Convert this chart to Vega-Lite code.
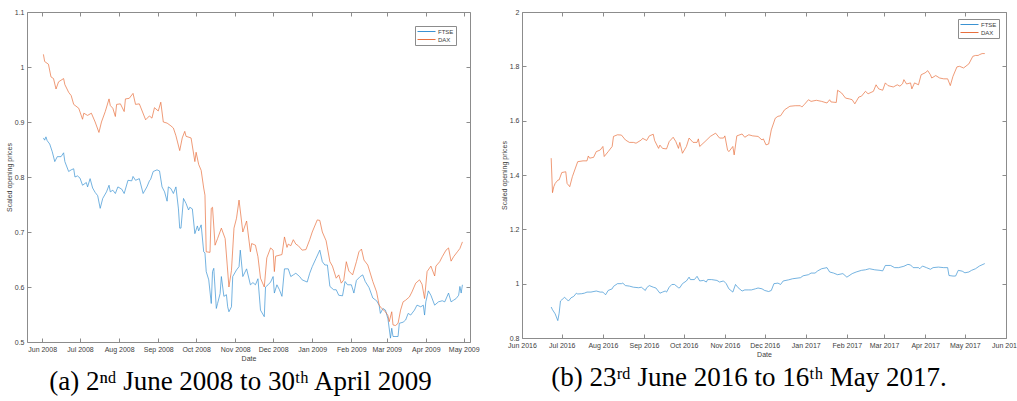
{
  "$schema": "https://vega.github.io/schema/vega-lite/v6.json",
  "padding": {"left": 4, "top": 7, "right": 0, "bottom": 0},
  "background": "white",
  "bounds": "flush",
  "spacing": 52,
  "resolve": {"scale": {"color": "independent"}, "legend": {"color": "independent"}},
  "config": {
    "view": {"stroke": "#8c8c8c", "strokeWidth": 1},
    "axis": {"grid": false, "domain": false, "tickColor": "#8c8c8c", "tickSize": -4, "labelPadding": 7, "labelFont": "Liberation Sans", "labelFontSize": 7, "labelColor": "#404040", "titleFont": "Liberation Sans", "titleFontSize": 7, "titleFontWeight": "normal", "titleColor": "#404040", "labelOverlap": false, "labelFlush": false, "titlePadding": 2},
    "legend": {"title": null, "orient": "top-right", "strokeColor": "#8c8c8c", "fillColor": "white", "padding": 2, "rowPadding": 1, "labelFont": "Liberation Sans", "labelFontSize": 6, "labelColor": "#404040", "symbolType": "M-3,0H3", "symbolSize": 36, "symbolStrokeWidth": 1, "symbolOffset": 6, "labelOffset": 8}
  },
  "datasets": {
    "a": [
      {"s":"FTSE","d":"2008-06-02","v":0.871},{"s":"FTSE","d":"2008-06-03","v":0.867},{"s":"FTSE","d":"2008-06-04","v":0.873},{"s":"FTSE","d":"2008-06-05","v":0.866},{"s":"FTSE","d":"2008-06-07","v":0.86},{"s":"FTSE","d":"2008-06-09","v":0.846},{"s":"FTSE","d":"2008-06-11","v":0.828},{"s":"FTSE","d":"2008-06-13","v":0.837},{"s":"FTSE","d":"2008-06-16","v":0.837},{"s":"FTSE","d":"2008-06-18","v":0.844},{"s":"FTSE","d":"2008-06-19","v":0.828},{"s":"FTSE","d":"2008-06-22","v":0.81},{"s":"FTSE","d":"2008-06-24","v":0.813},{"s":"FTSE","d":"2008-06-26","v":0.815},{"s":"FTSE","d":"2008-06-27","v":0.80},{"s":"FTSE","d":"2008-06-29","v":0.802},
      {"s":"FTSE","d":"2008-07-01","v":0.798},{"s":"FTSE","d":"2008-07-03","v":0.785},{"s":"FTSE","d":"2008-07-06","v":0.79},{"s":"FTSE","d":"2008-07-07","v":0.782},{"s":"FTSE","d":"2008-07-09","v":0.797},{"s":"FTSE","d":"2008-07-11","v":0.78},{"s":"FTSE","d":"2008-07-13","v":0.772},{"s":"FTSE","d":"2008-07-15","v":0.766},{"s":"FTSE","d":"2008-07-17","v":0.743},{"s":"FTSE","d":"2008-07-19","v":0.761},{"s":"FTSE","d":"2008-07-22","v":0.773},{"s":"FTSE","d":"2008-07-24","v":0.785},{"s":"FTSE","d":"2008-07-25","v":0.773},{"s":"FTSE","d":"2008-07-27","v":0.776},{"s":"FTSE","d":"2008-07-29","v":0.77},{"s":"FTSE","d":"2008-07-31","v":0.782},
      {"s":"FTSE","d":"2008-08-03","v":0.778},{"s":"FTSE","d":"2008-08-05","v":0.77},{"s":"FTSE","d":"2008-08-08","v":0.794},{"s":"FTSE","d":"2008-08-11","v":0.793},{"s":"FTSE","d":"2008-08-12","v":0.801},{"s":"FTSE","d":"2008-08-14","v":0.794},{"s":"FTSE","d":"2008-08-17","v":0.797},{"s":"FTSE","d":"2008-08-20","v":0.77},{"s":"FTSE","d":"2008-08-23","v":0.782},{"s":"FTSE","d":"2008-08-25","v":0.793},{"s":"FTSE","d":"2008-08-26","v":0.796},{"s":"FTSE","d":"2008-08-28","v":0.81},{"s":"FTSE","d":"2008-08-31","v":0.813},
      {"s":"FTSE","d":"2008-09-02","v":0.811},{"s":"FTSE","d":"2008-09-04","v":0.782},{"s":"FTSE","d":"2008-09-06","v":0.773},{"s":"FTSE","d":"2008-09-08","v":0.756},{"s":"FTSE","d":"2008-09-09","v":0.782},{"s":"FTSE","d":"2008-09-11","v":0.779},{"s":"FTSE","d":"2008-09-13","v":0.77},{"s":"FTSE","d":"2008-09-15","v":0.782},{"s":"FTSE","d":"2008-09-17","v":0.742},{"s":"FTSE","d":"2008-09-18","v":0.707},{"s":"FTSE","d":"2008-09-19","v":0.707},{"s":"FTSE","d":"2008-09-21","v":0.761},{"s":"FTSE","d":"2008-09-23","v":0.752},{"s":"FTSE","d":"2008-09-25","v":0.74},{"s":"FTSE","d":"2008-09-26","v":0.745},{"s":"FTSE","d":"2008-09-28","v":0.742},{"s":"FTSE","d":"2008-09-30","v":0.697},
      {"s":"FTSE","d":"2008-10-02","v":0.711},{"s":"FTSE","d":"2008-10-03","v":0.702},{"s":"FTSE","d":"2008-10-05","v":0.713},{"s":"FTSE","d":"2008-10-07","v":0.664},{"s":"FTSE","d":"2008-10-08","v":0.662},{"s":"FTSE","d":"2008-10-09","v":0.628},{"s":"FTSE","d":"2008-10-11","v":0.613},{"s":"FTSE","d":"2008-10-13","v":0.57},{"s":"FTSE","d":"2008-10-14","v":0.628},{"s":"FTSE","d":"2008-10-15","v":0.634},{"s":"FTSE","d":"2008-10-17","v":0.561},{"s":"FTSE","d":"2008-10-18","v":0.57},{"s":"FTSE","d":"2008-10-20","v":0.588},{"s":"FTSE","d":"2008-10-21","v":0.619},{"s":"FTSE","d":"2008-10-23","v":0.583},{"s":"FTSE","d":"2008-10-25","v":0.586},{"s":"FTSE","d":"2008-10-26","v":0.564},{"s":"FTSE","d":"2008-10-27","v":0.555},{"s":"FTSE","d":"2008-10-29","v":0.564},{"s":"FTSE","d":"2008-10-30","v":0.619},
      {"s":"FTSE","d":"2008-11-02","v":0.631},{"s":"FTSE","d":"2008-11-04","v":0.637},{"s":"FTSE","d":"2008-11-05","v":0.667},{"s":"FTSE","d":"2008-11-07","v":0.619},{"s":"FTSE","d":"2008-11-10","v":0.633},{"s":"FTSE","d":"2008-11-13","v":0.604},{"s":"FTSE","d":"2008-11-15","v":0.608},{"s":"FTSE","d":"2008-11-17","v":0.604},{"s":"FTSE","d":"2008-11-19","v":0.615},{"s":"FTSE","d":"2008-11-21","v":0.558},{"s":"FTSE","d":"2008-11-24","v":0.546},{"s":"FTSE","d":"2008-11-25","v":0.60},{"s":"FTSE","d":"2008-11-27","v":0.604},{"s":"FTSE","d":"2008-11-29","v":0.609},
      {"s":"FTSE","d":"2008-12-01","v":0.619},{"s":"FTSE","d":"2008-12-02","v":0.589},{"s":"FTSE","d":"2008-12-04","v":0.604},{"s":"FTSE","d":"2008-12-06","v":0.595},{"s":"FTSE","d":"2008-12-08","v":0.583},{"s":"FTSE","d":"2008-12-10","v":0.633},{"s":"FTSE","d":"2008-12-13","v":0.633},{"s":"FTSE","d":"2008-12-15","v":0.619},{"s":"FTSE","d":"2008-12-17","v":0.622},{"s":"FTSE","d":"2008-12-19","v":0.625},{"s":"FTSE","d":"2008-12-22","v":0.619},{"s":"FTSE","d":"2008-12-24","v":0.613},{"s":"FTSE","d":"2008-12-28","v":0.609},{"s":"FTSE","d":"2008-12-30","v":0.625},
      {"s":"FTSE","d":"2009-01-01","v":0.637},{"s":"FTSE","d":"2009-01-04","v":0.652},{"s":"FTSE","d":"2009-01-07","v":0.667},{"s":"FTSE","d":"2009-01-09","v":0.646},{"s":"FTSE","d":"2009-01-11","v":0.64},{"s":"FTSE","d":"2009-01-13","v":0.64},{"s":"FTSE","d":"2009-01-15","v":0.601},{"s":"FTSE","d":"2009-01-18","v":0.595},{"s":"FTSE","d":"2009-01-20","v":0.595},{"s":"FTSE","d":"2009-01-22","v":0.585},{"s":"FTSE","d":"2009-01-25","v":0.584},{"s":"FTSE","d":"2009-01-27","v":0.61},{"s":"FTSE","d":"2009-01-29","v":0.604},
      {"s":"FTSE","d":"2009-02-01","v":0.604},{"s":"FTSE","d":"2009-02-03","v":0.589},{"s":"FTSE","d":"2009-02-05","v":0.612},{"s":"FTSE","d":"2009-02-08","v":0.619},{"s":"FTSE","d":"2009-02-10","v":0.622},{"s":"FTSE","d":"2009-02-12","v":0.61},{"s":"FTSE","d":"2009-02-15","v":0.599},{"s":"FTSE","d":"2009-02-18","v":0.58},{"s":"FTSE","d":"2009-02-21","v":0.575},{"s":"FTSE","d":"2009-02-23","v":0.567},{"s":"FTSE","d":"2009-02-24","v":0.552},{"s":"FTSE","d":"2009-02-26","v":0.561},{"s":"FTSE","d":"2009-02-28","v":0.558},
      {"s":"FTSE","d":"2009-03-02","v":0.542},{"s":"FTSE","d":"2009-03-04","v":0.507},{"s":"FTSE","d":"2009-03-05","v":0.525},{"s":"FTSE","d":"2009-03-06","v":0.51},{"s":"FTSE","d":"2009-03-10","v":0.51},{"s":"FTSE","d":"2009-03-11","v":0.534},{"s":"FTSE","d":"2009-03-14","v":0.536},{"s":"FTSE","d":"2009-03-16","v":0.54},{"s":"FTSE","d":"2009-03-18","v":0.552},{"s":"FTSE","d":"2009-03-20","v":0.549},{"s":"FTSE","d":"2009-03-23","v":0.558},{"s":"FTSE","d":"2009-03-25","v":0.567},{"s":"FTSE","d":"2009-03-28","v":0.564},{"s":"FTSE","d":"2009-03-30","v":0.567},{"s":"FTSE","d":"2009-03-31","v":0.549},
      {"s":"FTSE","d":"2009-04-01","v":0.573},{"s":"FTSE","d":"2009-04-03","v":0.593},{"s":"FTSE","d":"2009-04-05","v":0.585},{"s":"FTSE","d":"2009-04-08","v":0.567},{"s":"FTSE","d":"2009-04-11","v":0.573},{"s":"FTSE","d":"2009-04-14","v":0.575},{"s":"FTSE","d":"2009-04-16","v":0.573},{"s":"FTSE","d":"2009-04-19","v":0.589},{"s":"FTSE","d":"2009-04-21","v":0.573},{"s":"FTSE","d":"2009-04-23","v":0.576},{"s":"FTSE","d":"2009-04-25","v":0.579},{"s":"FTSE","d":"2009-04-27","v":0.585},{"s":"FTSE","d":"2009-04-28","v":0.601},{"s":"FTSE","d":"2009-04-29","v":0.589},{"s":"FTSE","d":"2009-04-30","v":0.604},
      {"s":"DAX","d":"2008-06-02","v":1.023},{"s":"DAX","d":"2008-06-03","v":1.01},{"s":"DAX","d":"2008-06-06","v":1.005},{"s":"DAX","d":"2008-06-08","v":0.982},{"s":"DAX","d":"2008-06-10","v":0.979},{"s":"DAX","d":"2008-06-12","v":0.96},{"s":"DAX","d":"2008-06-14","v":0.973},{"s":"DAX","d":"2008-06-18","v":0.979},{"s":"DAX","d":"2008-06-19","v":0.968},{"s":"DAX","d":"2008-06-22","v":0.954},{"s":"DAX","d":"2008-06-24","v":0.948},{"s":"DAX","d":"2008-06-26","v":0.932},{"s":"DAX","d":"2008-06-30","v":0.925},
      {"s":"DAX","d":"2008-07-03","v":0.905},{"s":"DAX","d":"2008-07-04","v":0.916},{"s":"DAX","d":"2008-07-07","v":0.912},{"s":"DAX","d":"2008-07-10","v":0.916},{"s":"DAX","d":"2008-07-13","v":0.90},{"s":"DAX","d":"2008-07-16","v":0.881},{"s":"DAX","d":"2008-07-18","v":0.90},{"s":"DAX","d":"2008-07-21","v":0.919},{"s":"DAX","d":"2008-07-24","v":0.942},{"s":"DAX","d":"2008-07-25","v":0.93},{"s":"DAX","d":"2008-07-27","v":0.925},{"s":"DAX","d":"2008-07-29","v":0.91},{"s":"DAX","d":"2008-07-30","v":0.932},
      {"s":"DAX","d":"2008-08-02","v":0.933},{"s":"DAX","d":"2008-08-05","v":0.919},{"s":"DAX","d":"2008-08-06","v":0.942},{"s":"DAX","d":"2008-08-09","v":0.943},{"s":"DAX","d":"2008-08-12","v":0.952},{"s":"DAX","d":"2008-08-14","v":0.932},{"s":"DAX","d":"2008-08-17","v":0.933},{"s":"DAX","d":"2008-08-22","v":0.904},{"s":"DAX","d":"2008-08-25","v":0.911},{"s":"DAX","d":"2008-08-27","v":0.907},{"s":"DAX","d":"2008-08-29","v":0.926},
      {"s":"DAX","d":"2008-09-01","v":0.92},{"s":"DAX","d":"2008-09-03","v":0.936},{"s":"DAX","d":"2008-09-05","v":0.90},{"s":"DAX","d":"2008-09-08","v":0.898},{"s":"DAX","d":"2008-09-11","v":0.893},{"s":"DAX","d":"2008-09-13","v":0.889},{"s":"DAX","d":"2008-09-15","v":0.875},{"s":"DAX","d":"2008-09-18","v":0.848},{"s":"DAX","d":"2008-09-20","v":0.871},{"s":"DAX","d":"2008-09-22","v":0.883},{"s":"DAX","d":"2008-09-23","v":0.874},{"s":"DAX","d":"2008-09-27","v":0.871},{"s":"DAX","d":"2008-09-30","v":0.828},
      {"s":"DAX","d":"2008-10-01","v":0.845},{"s":"DAX","d":"2008-10-03","v":0.823},{"s":"DAX","d":"2008-10-05","v":0.812},{"s":"DAX","d":"2008-10-07","v":0.78},{"s":"DAX","d":"2008-10-08","v":0.767},{"s":"DAX","d":"2008-10-09","v":0.664},{"s":"DAX","d":"2008-10-12","v":0.663},{"s":"DAX","d":"2008-10-13","v":0.743},{"s":"DAX","d":"2008-10-14","v":0.745},{"s":"DAX","d":"2008-10-16","v":0.676},{"s":"DAX","d":"2008-10-18","v":0.688},{"s":"DAX","d":"2008-10-21","v":0.707},{"s":"DAX","d":"2008-10-24","v":0.688},{"s":"DAX","d":"2008-10-27","v":0.60},{"s":"DAX","d":"2008-10-29","v":0.63},{"s":"DAX","d":"2008-10-31","v":0.707},
      {"s":"DAX","d":"2008-11-02","v":0.725},{"s":"DAX","d":"2008-11-04","v":0.758},{"s":"DAX","d":"2008-11-07","v":0.70},{"s":"DAX","d":"2008-11-10","v":0.72},{"s":"DAX","d":"2008-11-13","v":0.664},{"s":"DAX","d":"2008-11-14","v":0.679},{"s":"DAX","d":"2008-11-17","v":0.676},{"s":"DAX","d":"2008-11-19","v":0.655},{"s":"DAX","d":"2008-11-21","v":0.616},{"s":"DAX","d":"2008-11-24","v":0.60},{"s":"DAX","d":"2008-11-26","v":0.653},{"s":"DAX","d":"2008-11-29","v":0.671},
      {"s":"DAX","d":"2008-12-01","v":0.667},{"s":"DAX","d":"2008-12-02","v":0.628},{"s":"DAX","d":"2008-12-03","v":0.656},{"s":"DAX","d":"2008-12-08","v":0.659},{"s":"DAX","d":"2008-12-10","v":0.691},{"s":"DAX","d":"2008-12-12","v":0.672},{"s":"DAX","d":"2008-12-13","v":0.678},{"s":"DAX","d":"2008-12-15","v":0.675},{"s":"DAX","d":"2008-12-17","v":0.686},{"s":"DAX","d":"2008-12-19","v":0.678},{"s":"DAX","d":"2008-12-21","v":0.675},{"s":"DAX","d":"2008-12-24","v":0.667},{"s":"DAX","d":"2008-12-27","v":0.668},{"s":"DAX","d":"2008-12-30","v":0.686},
      {"s":"DAX","d":"2009-01-01","v":0.70},{"s":"DAX","d":"2009-01-05","v":0.722},{"s":"DAX","d":"2009-01-07","v":0.721},{"s":"DAX","d":"2009-01-09","v":0.70},{"s":"DAX","d":"2009-01-12","v":0.684},{"s":"DAX","d":"2009-01-15","v":0.646},{"s":"DAX","d":"2009-01-17","v":0.638},{"s":"DAX","d":"2009-01-20","v":0.616},{"s":"DAX","d":"2009-01-22","v":0.622},{"s":"DAX","d":"2009-01-24","v":0.607},{"s":"DAX","d":"2009-01-26","v":0.613},{"s":"DAX","d":"2009-01-28","v":0.646},{"s":"DAX","d":"2009-01-30","v":0.629},
      {"s":"DAX","d":"2009-02-02","v":0.622},{"s":"DAX","d":"2009-02-05","v":0.646},{"s":"DAX","d":"2009-02-07","v":0.664},{"s":"DAX","d":"2009-02-09","v":0.669},{"s":"DAX","d":"2009-02-11","v":0.649},{"s":"DAX","d":"2009-02-14","v":0.64},{"s":"DAX","d":"2009-02-18","v":0.61},{"s":"DAX","d":"2009-02-21","v":0.591},{"s":"DAX","d":"2009-02-23","v":0.567},{"s":"DAX","d":"2009-02-25","v":0.561},{"s":"DAX","d":"2009-02-28","v":0.555},
      {"s":"DAX","d":"2009-03-02","v":0.548},{"s":"DAX","d":"2009-03-03","v":0.537},{"s":"DAX","d":"2009-03-05","v":0.555},{"s":"DAX","d":"2009-03-06","v":0.531},{"s":"DAX","d":"2009-03-08","v":0.53},{"s":"DAX","d":"2009-03-10","v":0.534},{"s":"DAX","d":"2009-03-12","v":0.558},{"s":"DAX","d":"2009-03-14","v":0.573},{"s":"DAX","d":"2009-03-16","v":0.576},{"s":"DAX","d":"2009-03-19","v":0.582},{"s":"DAX","d":"2009-03-21","v":0.591},{"s":"DAX","d":"2009-03-24","v":0.607},{"s":"DAX","d":"2009-03-27","v":0.613},{"s":"DAX","d":"2009-03-29","v":0.605},{"s":"DAX","d":"2009-03-31","v":0.579},
      {"s":"DAX","d":"2009-04-02","v":0.628},{"s":"DAX","d":"2009-04-05","v":0.638},{"s":"DAX","d":"2009-04-08","v":0.62},{"s":"DAX","d":"2009-04-09","v":0.638},{"s":"DAX","d":"2009-04-12","v":0.646},{"s":"DAX","d":"2009-04-14","v":0.655},{"s":"DAX","d":"2009-04-17","v":0.667},{"s":"DAX","d":"2009-04-19","v":0.671},{"s":"DAX","d":"2009-04-21","v":0.647},{"s":"DAX","d":"2009-04-23","v":0.655},{"s":"DAX","d":"2009-04-26","v":0.664},{"s":"DAX","d":"2009-04-28","v":0.67},{"s":"DAX","d":"2009-04-29","v":0.676},{"s":"DAX","d":"2009-04-30","v":0.682}
    ],
    "b": [
      {"s":"FTSE","d":"2016-06-23","v":0.914},{"s":"FTSE","d":"2016-06-24","v":0.904},{"s":"FTSE","d":"2016-06-26","v":0.889},{"s":"FTSE","d":"2016-06-28","v":0.864},{"s":"FTSE","d":"2016-06-29","v":0.891},{"s":"FTSE","d":"2016-06-30","v":0.936},
      {"s":"FTSE","d":"2016-07-01","v":0.94},{"s":"FTSE","d":"2016-07-03","v":0.95},{"s":"FTSE","d":"2016-07-04","v":0.946},{"s":"FTSE","d":"2016-07-06","v":0.936},{"s":"FTSE","d":"2016-07-08","v":0.948},{"s":"FTSE","d":"2016-07-10","v":0.953},{"s":"FTSE","d":"2016-07-12","v":0.965},{"s":"FTSE","d":"2016-07-13","v":0.962},{"s":"FTSE","d":"2016-07-16","v":0.963},{"s":"FTSE","d":"2016-07-18","v":0.965},{"s":"FTSE","d":"2016-07-20","v":0.969},{"s":"FTSE","d":"2016-07-23","v":0.969},{"s":"FTSE","d":"2016-07-27","v":0.973},{"s":"FTSE","d":"2016-07-30","v":0.969},
      {"s":"FTSE","d":"2016-08-01","v":0.969},{"s":"FTSE","d":"2016-08-03","v":0.959},{"s":"FTSE","d":"2016-08-05","v":0.975},{"s":"FTSE","d":"2016-08-08","v":0.981},{"s":"FTSE","d":"2016-08-09","v":0.99},{"s":"FTSE","d":"2016-08-12","v":1.0},{"s":"FTSE","d":"2016-08-15","v":1.0},{"s":"FTSE","d":"2016-08-16","v":1.002},{"s":"FTSE","d":"2016-08-18","v":0.993},{"s":"FTSE","d":"2016-08-21","v":0.991},{"s":"FTSE","d":"2016-08-24","v":0.987},{"s":"FTSE","d":"2016-08-28","v":0.985},{"s":"FTSE","d":"2016-08-30","v":0.987},
      {"s":"FTSE","d":"2016-09-02","v":0.975},{"s":"FTSE","d":"2016-09-03","v":0.985},{"s":"FTSE","d":"2016-09-05","v":0.993},{"s":"FTSE","d":"2016-09-08","v":0.987},{"s":"FTSE","d":"2016-09-10","v":0.984},{"s":"FTSE","d":"2016-09-13","v":0.965},{"s":"FTSE","d":"2016-09-15","v":0.969},{"s":"FTSE","d":"2016-09-17","v":0.973},{"s":"FTSE","d":"2016-09-18","v":0.969},{"s":"FTSE","d":"2016-09-20","v":0.987},{"s":"FTSE","d":"2016-09-22","v":0.997},{"s":"FTSE","d":"2016-09-24","v":0.997},{"s":"FTSE","d":"2016-09-27","v":0.985},{"s":"FTSE","d":"2016-09-28","v":0.985},{"s":"FTSE","d":"2016-09-30","v":1.0},
      {"s":"FTSE","d":"2016-10-03","v":1.01},{"s":"FTSE","d":"2016-10-05","v":1.024},{"s":"FTSE","d":"2016-10-06","v":1.015},{"s":"FTSE","d":"2016-10-09","v":1.015},{"s":"FTSE","d":"2016-10-11","v":1.027},{"s":"FTSE","d":"2016-10-13","v":1.01},{"s":"FTSE","d":"2016-10-16","v":1.012},{"s":"FTSE","d":"2016-10-18","v":1.006},{"s":"FTSE","d":"2016-10-19","v":1.015},{"s":"FTSE","d":"2016-10-22","v":1.015},{"s":"FTSE","d":"2016-10-26","v":1.012},{"s":"FTSE","d":"2016-10-28","v":1.006},{"s":"FTSE","d":"2016-10-31","v":1.01},
      {"s":"FTSE","d":"2016-11-02","v":1.0},{"s":"FTSE","d":"2016-11-04","v":0.981},{"s":"FTSE","d":"2016-11-07","v":0.969},{"s":"FTSE","d":"2016-11-09","v":0.997},{"s":"FTSE","d":"2016-11-11","v":0.985},{"s":"FTSE","d":"2016-11-14","v":0.973},{"s":"FTSE","d":"2016-11-16","v":0.977},{"s":"FTSE","d":"2016-11-19","v":0.977},{"s":"FTSE","d":"2016-11-21","v":0.977},{"s":"FTSE","d":"2016-11-24","v":0.981},{"s":"FTSE","d":"2016-11-26","v":0.984},{"s":"FTSE","d":"2016-11-29","v":0.981},
      {"s":"FTSE","d":"2016-12-01","v":0.975},{"s":"FTSE","d":"2016-12-04","v":0.971},{"s":"FTSE","d":"2016-12-06","v":0.975},{"s":"FTSE","d":"2016-12-08","v":1.0},{"s":"FTSE","d":"2016-12-11","v":1.002},{"s":"FTSE","d":"2016-12-13","v":0.997},{"s":"FTSE","d":"2016-12-15","v":1.01},{"s":"FTSE","d":"2016-12-19","v":1.014},{"s":"FTSE","d":"2016-12-22","v":1.018},{"s":"FTSE","d":"2016-12-28","v":1.022},{"s":"FTSE","d":"2016-12-30","v":1.029},
      {"s":"FTSE","d":"2017-01-03","v":1.033},{"s":"FTSE","d":"2017-01-05","v":1.039},{"s":"FTSE","d":"2017-01-08","v":1.039},{"s":"FTSE","d":"2017-01-10","v":1.047},{"s":"FTSE","d":"2017-01-13","v":1.055},{"s":"FTSE","d":"2017-01-17","v":1.059},{"s":"FTSE","d":"2017-01-19","v":1.043},{"s":"FTSE","d":"2017-01-22","v":1.039},{"s":"FTSE","d":"2017-01-25","v":1.033},{"s":"FTSE","d":"2017-01-29","v":1.037},
      {"s":"FTSE","d":"2017-02-01","v":1.024},{"s":"FTSE","d":"2017-02-05","v":1.037},{"s":"FTSE","d":"2017-02-08","v":1.043},{"s":"FTSE","d":"2017-02-12","v":1.049},{"s":"FTSE","d":"2017-02-15","v":1.051},{"s":"FTSE","d":"2017-02-18","v":1.055},{"s":"FTSE","d":"2017-02-22","v":1.051},{"s":"FTSE","d":"2017-02-26","v":1.049},{"s":"FTSE","d":"2017-02-28","v":1.047},
      {"s":"FTSE","d":"2017-03-02","v":1.067},{"s":"FTSE","d":"2017-03-06","v":1.067},{"s":"FTSE","d":"2017-03-09","v":1.059},{"s":"FTSE","d":"2017-03-12","v":1.059},{"s":"FTSE","d":"2017-03-16","v":1.064},{"s":"FTSE","d":"2017-03-19","v":1.071},{"s":"FTSE","d":"2017-03-21","v":1.069},{"s":"FTSE","d":"2017-03-23","v":1.059},{"s":"FTSE","d":"2017-03-27","v":1.059},{"s":"FTSE","d":"2017-03-28","v":1.055},{"s":"FTSE","d":"2017-03-30","v":1.065},
      {"s":"FTSE","d":"2017-04-02","v":1.059},{"s":"FTSE","d":"2017-04-05","v":1.053},{"s":"FTSE","d":"2017-04-07","v":1.059},{"s":"FTSE","d":"2017-04-11","v":1.061},{"s":"FTSE","d":"2017-04-15","v":1.059},{"s":"FTSE","d":"2017-04-18","v":1.059},{"s":"FTSE","d":"2017-04-19","v":1.03},{"s":"FTSE","d":"2017-04-22","v":1.028},{"s":"FTSE","d":"2017-04-24","v":1.028},{"s":"FTSE","d":"2017-04-26","v":1.049},{"s":"FTSE","d":"2017-04-29","v":1.046},
      {"s":"FTSE","d":"2017-05-01","v":1.04},{"s":"FTSE","d":"2017-05-04","v":1.043},{"s":"FTSE","d":"2017-05-06","v":1.049},{"s":"FTSE","d":"2017-05-09","v":1.055},{"s":"FTSE","d":"2017-05-12","v":1.065},{"s":"FTSE","d":"2017-05-16","v":1.074},
      {"s":"DAX","d":"2016-06-23","v":1.462},{"s":"DAX","d":"2016-06-24","v":1.335},{"s":"DAX","d":"2016-06-25","v":1.357},{"s":"DAX","d":"2016-06-26","v":1.369},{"s":"DAX","d":"2016-06-28","v":1.381},{"s":"DAX","d":"2016-06-29","v":1.382},
      {"s":"DAX","d":"2016-07-01","v":1.409},{"s":"DAX","d":"2016-07-04","v":1.412},{"s":"DAX","d":"2016-07-05","v":1.369},{"s":"DAX","d":"2016-07-07","v":1.357},{"s":"DAX","d":"2016-07-09","v":1.394},{"s":"DAX","d":"2016-07-13","v":1.449},{"s":"DAX","d":"2016-07-17","v":1.452},{"s":"DAX","d":"2016-07-20","v":1.452},{"s":"DAX","d":"2016-07-21","v":1.47},{"s":"DAX","d":"2016-07-22","v":1.462},{"s":"DAX","d":"2016-07-25","v":1.465},{"s":"DAX","d":"2016-07-27","v":1.486},{"s":"DAX","d":"2016-07-30","v":1.492},
      {"s":"DAX","d":"2016-08-01","v":1.505},{"s":"DAX","d":"2016-08-02","v":1.468},{"s":"DAX","d":"2016-08-05","v":1.486},{"s":"DAX","d":"2016-08-08","v":1.505},{"s":"DAX","d":"2016-08-09","v":1.542},{"s":"DAX","d":"2016-08-12","v":1.548},{"s":"DAX","d":"2016-08-15","v":1.547},{"s":"DAX","d":"2016-08-18","v":1.529},{"s":"DAX","d":"2016-08-21","v":1.52},{"s":"DAX","d":"2016-08-24","v":1.52},{"s":"DAX","d":"2016-08-26","v":1.517},{"s":"DAX","d":"2016-08-30","v":1.529},{"s":"DAX","d":"2016-08-31","v":1.535},
      {"s":"DAX","d":"2016-09-03","v":1.527},{"s":"DAX","d":"2016-09-05","v":1.544},{"s":"DAX","d":"2016-09-08","v":1.55},{"s":"DAX","d":"2016-09-09","v":1.527},{"s":"DAX","d":"2016-09-12","v":1.498},{"s":"DAX","d":"2016-09-13","v":1.51},{"s":"DAX","d":"2016-09-15","v":1.498},{"s":"DAX","d":"2016-09-18","v":1.496},{"s":"DAX","d":"2016-09-20","v":1.523},{"s":"DAX","d":"2016-09-23","v":1.539},{"s":"DAX","d":"2016-09-25","v":1.523},{"s":"DAX","d":"2016-09-27","v":1.498},{"s":"DAX","d":"2016-09-28","v":1.52},{"s":"DAX","d":"2016-09-30","v":1.48},
      {"s":"DAX","d":"2016-10-03","v":1.505},{"s":"DAX","d":"2016-10-05","v":1.536},{"s":"DAX","d":"2016-10-08","v":1.52},{"s":"DAX","d":"2016-10-11","v":1.52},{"s":"DAX","d":"2016-10-12","v":1.533},{"s":"DAX","d":"2016-10-13","v":1.505},{"s":"DAX","d":"2016-10-17","v":1.523},{"s":"DAX","d":"2016-10-21","v":1.542},{"s":"DAX","d":"2016-10-23","v":1.548},{"s":"DAX","d":"2016-10-25","v":1.554},{"s":"DAX","d":"2016-10-28","v":1.536},{"s":"DAX","d":"2016-10-31","v":1.536},
      {"s":"DAX","d":"2016-11-01","v":1.544},{"s":"DAX","d":"2016-11-03","v":1.492},{"s":"DAX","d":"2016-11-04","v":1.486},{"s":"DAX","d":"2016-11-07","v":1.505},{"s":"DAX","d":"2016-11-08","v":1.474},{"s":"DAX","d":"2016-11-10","v":1.544},{"s":"DAX","d":"2016-11-14","v":1.551},{"s":"DAX","d":"2016-11-16","v":1.539},{"s":"DAX","d":"2016-11-19","v":1.548},{"s":"DAX","d":"2016-11-22","v":1.544},{"s":"DAX","d":"2016-11-26","v":1.542},{"s":"DAX","d":"2016-11-29","v":1.529},{"s":"DAX","d":"2016-11-30","v":1.533},
      {"s":"DAX","d":"2016-12-02","v":1.511},{"s":"DAX","d":"2016-12-04","v":1.514},{"s":"DAX","d":"2016-12-06","v":1.566},{"s":"DAX","d":"2016-12-09","v":1.609},{"s":"DAX","d":"2016-12-11","v":1.616},{"s":"DAX","d":"2016-12-13","v":1.618},{"s":"DAX","d":"2016-12-16","v":1.64},{"s":"DAX","d":"2016-12-20","v":1.653},{"s":"DAX","d":"2016-12-24","v":1.655},{"s":"DAX","d":"2016-12-28","v":1.655},{"s":"DAX","d":"2016-12-29","v":1.65},{"s":"DAX","d":"2016-12-31","v":1.66},
      {"s":"DAX","d":"2017-01-03","v":1.677},{"s":"DAX","d":"2017-01-05","v":1.671},{"s":"DAX","d":"2017-01-09","v":1.675},{"s":"DAX","d":"2017-01-13","v":1.671},{"s":"DAX","d":"2017-01-17","v":1.665},{"s":"DAX","d":"2017-01-19","v":1.677},{"s":"DAX","d":"2017-01-20","v":1.669},{"s":"DAX","d":"2017-01-24","v":1.667},{"s":"DAX","d":"2017-01-25","v":1.712},{"s":"DAX","d":"2017-01-28","v":1.702},{"s":"DAX","d":"2017-01-31","v":1.683},
      {"s":"DAX","d":"2017-02-03","v":1.68},{"s":"DAX","d":"2017-02-05","v":1.677},{"s":"DAX","d":"2017-02-07","v":1.662},{"s":"DAX","d":"2017-02-10","v":1.687},{"s":"DAX","d":"2017-02-12","v":1.69},{"s":"DAX","d":"2017-02-15","v":1.708},{"s":"DAX","d":"2017-02-17","v":1.699},{"s":"DAX","d":"2017-02-21","v":1.708},{"s":"DAX","d":"2017-02-23","v":1.732},{"s":"DAX","d":"2017-02-25","v":1.717},{"s":"DAX","d":"2017-02-28","v":1.712},
      {"s":"DAX","d":"2017-03-02","v":1.739},{"s":"DAX","d":"2017-03-04","v":1.729},{"s":"DAX","d":"2017-03-08","v":1.724},{"s":"DAX","d":"2017-03-11","v":1.732},{"s":"DAX","d":"2017-03-13","v":1.727},{"s":"DAX","d":"2017-03-15","v":1.736},{"s":"DAX","d":"2017-03-16","v":1.751},{"s":"DAX","d":"2017-03-18","v":1.735},{"s":"DAX","d":"2017-03-21","v":1.739},{"s":"DAX","d":"2017-03-22","v":1.717},{"s":"DAX","d":"2017-03-24","v":1.739},{"s":"DAX","d":"2017-03-27","v":1.732},{"s":"DAX","d":"2017-03-29","v":1.769},
      {"s":"DAX","d":"2017-04-01","v":1.776},{"s":"DAX","d":"2017-04-03","v":1.784},{"s":"DAX","d":"2017-04-05","v":1.769},{"s":"DAX","d":"2017-04-06","v":1.757},{"s":"DAX","d":"2017-04-09","v":1.766},{"s":"DAX","d":"2017-04-12","v":1.757},{"s":"DAX","d":"2017-04-15","v":1.754},{"s":"DAX","d":"2017-04-18","v":1.754},{"s":"DAX","d":"2017-04-20","v":1.729},{"s":"DAX","d":"2017-04-22","v":1.763},{"s":"DAX","d":"2017-04-25","v":1.798},{"s":"DAX","d":"2017-04-27","v":1.80},{"s":"DAX","d":"2017-04-30","v":1.794},
      {"s":"DAX","d":"2017-05-04","v":1.809},{"s":"DAX","d":"2017-05-07","v":1.837},{"s":"DAX","d":"2017-05-09","v":1.84},{"s":"DAX","d":"2017-05-11","v":1.84},{"s":"DAX","d":"2017-05-12","v":1.843},{"s":"DAX","d":"2017-05-14","v":1.847},{"s":"DAX","d":"2017-05-16","v":1.847}
    ]
  },
  "hconcat": [
    {
      "width": 443,
      "height": 330,
      "data": {"name": "a"},
      "title": {"text": "(a) 2ⁿᵈ June 2008 to 30ᵗʰ April 2009", "orient": "bottom", "anchor": "middle", "font": "Liberation Serif", "fontSize": 27, "fontWeight": "normal", "color": "#000000", "offset": 8, "dx": -8},
      "layer": [
        {
          "mark": {"type": "line", "strokeWidth": 0.7},
          "encoding": {
            "x": {"field": "d", "type": "temporal", "scale": {"type": "utc", "domain": [{"year": 2008, "month": 5, "date": 20, "utc": true}, {"year": 2009, "month": 5, "date": 6, "utc": true}]},
              "axis": {"orient": "bottom", "title": "Date", "format": "%b %Y", "values": [
                {"year": 2008, "month": 6, "date": 1, "utc": true}, {"year": 2008, "month": 7, "date": 1, "utc": true}, {"year": 2008, "month": 8, "date": 1, "utc": true}, {"year": 2008, "month": 9, "date": 1, "utc": true}, {"year": 2008, "month": 10, "date": 1, "utc": true}, {"year": 2008, "month": 11, "date": 1, "utc": true}, {"year": 2008, "month": 12, "date": 1, "utc": true}, {"year": 2009, "month": 1, "date": 1, "utc": true}, {"year": 2009, "month": 2, "date": 1, "utc": true}, {"year": 2009, "month": 3, "date": 1, "utc": true}, {"year": 2009, "month": 4, "date": 1, "utc": true}, {"year": 2009, "month": 5, "date": 1, "utc": true}]}},
            "y": {"field": "v", "type": "quantitative", "scale": {"domain": [0.5, 1.1], "zero": false, "nice": false},
              "axis": {"orient": "left", "title": "Scaled opening prices", "format": "~g", "values": [0.5, 0.6, 0.7, 0.8, 0.9, 1, 1.1]}},
            "color": {"field": "s", "type": "nominal", "scale": {"domain": ["FTSE", "DAX"], "range": ["#3a92d2", "#e8703e"]}, "legend": {"orient": "top-right", "offset": 14}}
          }
        },
        {
          "mark": {"type": "point", "opacity": 0},
          "encoding": {
            "x": {"field": "d", "type": "temporal", "axis": {"orient": "top", "title": null, "labels": false, "values": [
                {"year": 2008, "month": 6, "date": 1, "utc": true}, {"year": 2008, "month": 7, "date": 1, "utc": true}, {"year": 2008, "month": 8, "date": 1, "utc": true}, {"year": 2008, "month": 9, "date": 1, "utc": true}, {"year": 2008, "month": 10, "date": 1, "utc": true}, {"year": 2008, "month": 11, "date": 1, "utc": true}, {"year": 2008, "month": 12, "date": 1, "utc": true}, {"year": 2009, "month": 1, "date": 1, "utc": true}, {"year": 2009, "month": 2, "date": 1, "utc": true}, {"year": 2009, "month": 3, "date": 1, "utc": true}, {"year": 2009, "month": 4, "date": 1, "utc": true}, {"year": 2009, "month": 5, "date": 1, "utc": true}]}},
            "y": {"field": "v", "type": "quantitative", "axis": {"orient": "right", "title": null, "labels": false, "values": [0.5, 0.6, 0.7, 0.8, 0.9, 1, 1.1]}}
          }
        }
      ],
      "resolve": {"axis": {"x": "independent", "y": "independent"}}
    },
    {
      "width": 484,
      "height": 326,
      "data": {"name": "b"},
      "title": {"text": "(b) 23ʳᵈ June 2016 to 16ᵗʰ May 2017.", "orient": "bottom", "anchor": "middle", "font": "Liberation Serif", "fontSize": 27, "fontWeight": "normal", "color": "#000000", "offset": 8, "dx": -15},
      "layer": [
        {
          "mark": {"type": "line", "strokeWidth": 0.7},
          "encoding": {
            "x": {"field": "d", "type": "temporal", "scale": {"type": "utc", "domain": [{"year": 2016, "month": 6, "date": 1, "utc": true}, {"year": 2017, "month": 6, "date": 1, "utc": true}]},
              "axis": {"orient": "bottom", "title": "Date", "format": "%b %Y", "values": [
                {"year": 2016, "month": 6, "date": 1, "utc": true}, {"year": 2016, "month": 7, "date": 1, "utc": true}, {"year": 2016, "month": 8, "date": 1, "utc": true}, {"year": 2016, "month": 9, "date": 1, "utc": true}, {"year": 2016, "month": 10, "date": 1, "utc": true}, {"year": 2016, "month": 11, "date": 1, "utc": true}, {"year": 2016, "month": 12, "date": 1, "utc": true}, {"year": 2017, "month": 1, "date": 1, "utc": true}, {"year": 2017, "month": 2, "date": 1, "utc": true}, {"year": 2017, "month": 3, "date": 1, "utc": true}, {"year": 2017, "month": 4, "date": 1, "utc": true}, {"year": 2017, "month": 5, "date": 1, "utc": true}, {"year": 2017, "month": 6, "date": 1, "utc": true}]}},
            "y": {"field": "v", "type": "quantitative", "scale": {"domain": [0.8, 2], "zero": false, "nice": false},
              "axis": {"orient": "left", "title": "Scaled opening prices", "format": "~g", "values": [0.8, 1, 1.2, 1.4, 1.6, 1.8, 2]}},
            "color": {"field": "s", "type": "nominal", "scale": {"domain": ["FTSE", "DAX"], "range": ["#3a92d2", "#e8703e"]}, "legend": {"orient": "top-right", "offset": 7}}
          }
        },
        {
          "mark": {"type": "point", "opacity": 0},
          "encoding": {
            "x": {"field": "d", "type": "temporal", "axis": {"orient": "top", "title": null, "labels": false, "values": [
                {"year": 2016, "month": 6, "date": 1, "utc": true}, {"year": 2016, "month": 7, "date": 1, "utc": true}, {"year": 2016, "month": 8, "date": 1, "utc": true}, {"year": 2016, "month": 9, "date": 1, "utc": true}, {"year": 2016, "month": 10, "date": 1, "utc": true}, {"year": 2016, "month": 11, "date": 1, "utc": true}, {"year": 2016, "month": 12, "date": 1, "utc": true}, {"year": 2017, "month": 1, "date": 1, "utc": true}, {"year": 2017, "month": 2, "date": 1, "utc": true}, {"year": 2017, "month": 3, "date": 1, "utc": true}, {"year": 2017, "month": 4, "date": 1, "utc": true}, {"year": 2017, "month": 5, "date": 1, "utc": true}, {"year": 2017, "month": 6, "date": 1, "utc": true}]}},
            "y": {"field": "v", "type": "quantitative", "axis": {"orient": "right", "title": null, "labels": false, "values": [0.8, 1, 1.2, 1.4, 1.6, 1.8, 2]}}
          }
        }
      ],
      "resolve": {"axis": {"x": "independent", "y": "independent"}}
    }
  ]
}
